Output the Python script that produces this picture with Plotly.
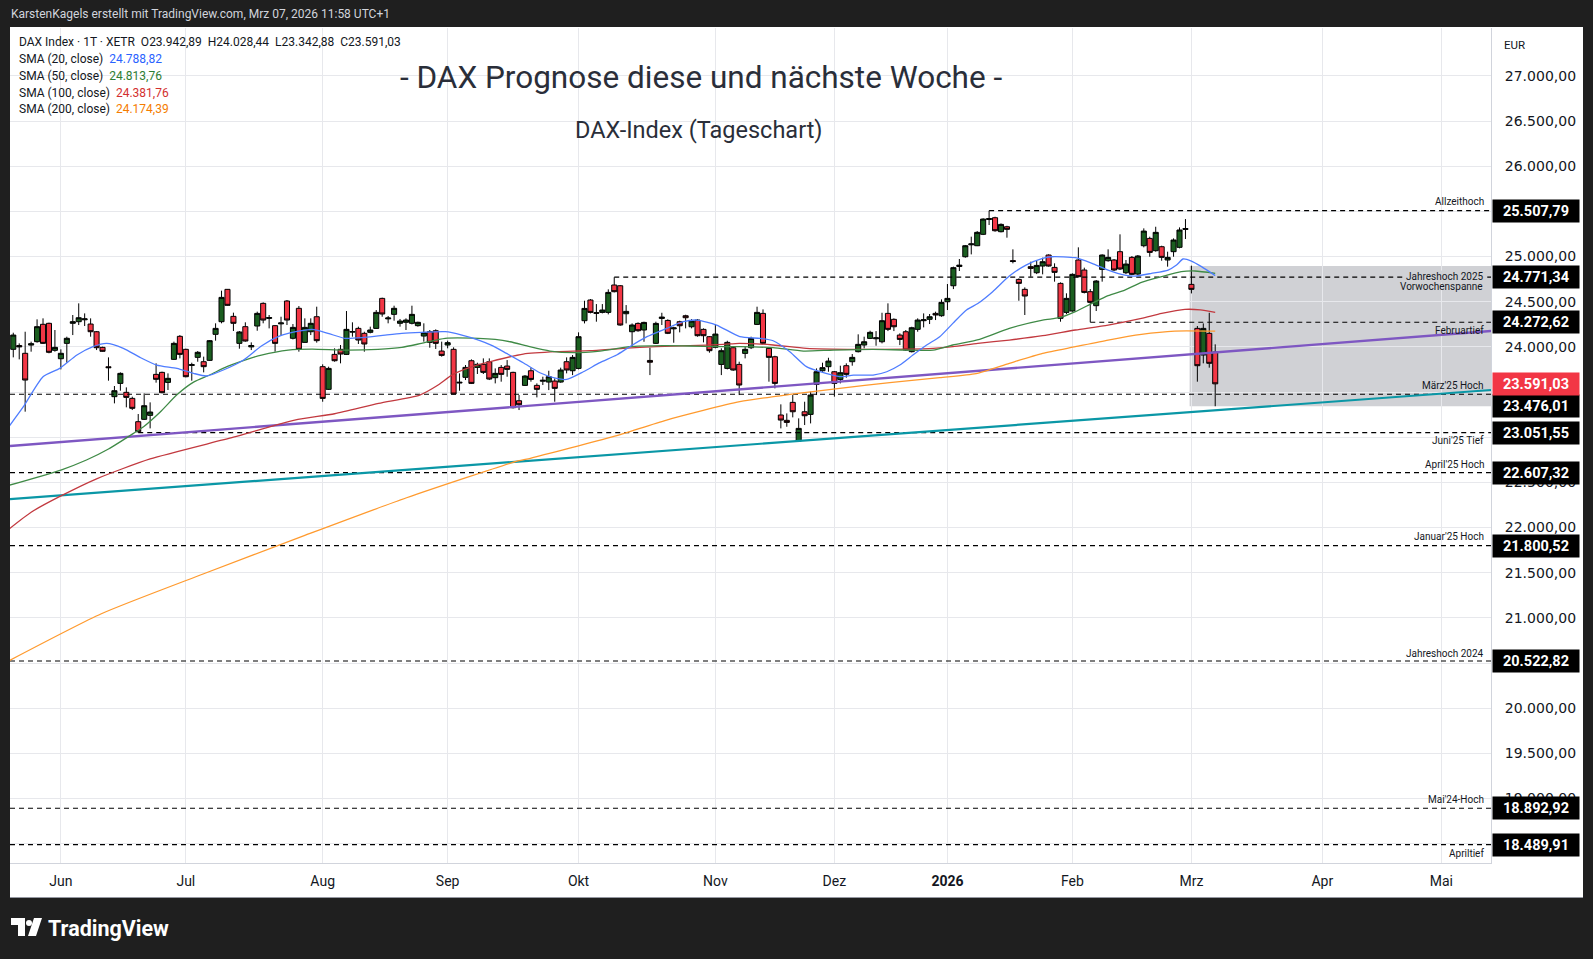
import plotly.graph_objects as go
import pandas as pd

# ---------------- DATA ----------------
holidays = {"2025-12-24", "2025-12-25", "2025-12-26", "2025-12-31", "2026-01-01",
            "2026-04-03", "2026-04-06", "2026-05-01"}
calendar = [d.strftime("%Y-%m-%d") for d in pd.bdate_range("2025-05-21", "2026-05-29")
            if d.strftime("%Y-%m-%d") not in holidays]

opens = [23973, 24015, 23929, 24020, 24058, 24250, 24261, 23962, 23869, 24039,
         24261, 24279, 24300, 24253, 24168, 23995, 23780, 23449, 23596, 23497,
         23430, 23172, 23198, 23242, 23696, 23718, 23607, 23862, 24117, 23973,
         23795, 23884, 23836, 23851, 24139, 24279, 24637, 24338, 24039, 24224,
         24000, 24231, 24482, 24315, 24235, 24255, 24508, 24095, 24427, 24050,
         24168, 24334, 23781, 23530, 23917, 23973, 23917, 24170, 24205, 24150,
         24161, 24205, 24537, 24310, 24360, 24261, 24272, 24261, 24235, 24120,
         24168, 24179, 23954, 24021, 23973, 23600, 23663, 23847, 23773, 23807,
         23836, 23659, 23773, 23788, 23718, 23404, 23574, 23736, 23574, 23620,
         23611, 23622, 23611, 23836, 23736, 23762, 24290, 24519, 24380, 24382,
         24382, 24685, 24677, 24367, 24168, 24260, 24187, 23850, 24039, 24315,
         24293, 24200, 24279, 24345, 24223, 24297, 24194, 24113, 23995, 23806,
         23762, 23991, 23806, 23928, 23991, 24249, 24371, 23984, 23891, 23246,
         23187, 23386, 22958, 23282, 23253, 23585, 23736, 23781, 23725, 23640,
         23792, 23836, 23947, 24021, 24094, 24090, 24057, 24371, 24305, 24131,
         24168, 23947, 24194, 24290, 24305, 24371, 24345, 24500, 24677, 24890,
         24998, 25130, 25120, 25246, 25410, 25430, 25275, 25330, 24955, 24747,
         24637, 24888, 24821, 24895, 25017, 24880, 24703, 24382, 24397, 24962,
         24851, 24611, 24456, 24858, 24954, 24962, 25054, 24821, 24991, 24806,
         25120, 25201, 25065, 25109, 24962, 25054, 25102, 25300, 24692, 24205,
         23910, 24150, 23942.89]
highs = [24157, 24039, 24168, 24058, 24305, 24316, 24268, 24187, 23973, 24113,
         24353, 24482, 24371, 24316, 24176, 24002, 23884, 23567, 23718, 23552,
         23449, 23257, 23486, 23386, 23818, 23726, 23707, 24058, 24131, 23980,
         23825, 23954, 23892, 24076, 24261, 24622, 24640, 24379, 24176, 24272,
         24050, 24390, 24493, 24353, 24242, 24334, 24519, 24253, 24452, 24316,
         24316, 24445, 23807, 23781, 23984, 24021, 24397, 24272, 24224, 24168,
         24224, 24408, 24545, 24342, 24456, 24309, 24316, 24456, 24279, 24261,
         24187, 24194, 24058, 24069, 23995, 23707, 23799, 23862, 23825, 23873,
         23873, 23762, 23799, 23854, 23725, 23467, 23688, 23773, 23596, 23670,
         23736, 23651, 23770, 23884, 23910, 24161, 24511, 24530, 24474, 24474,
         24637, 24771, 24685, 24463, 24260, 24271, 24279, 23991, 24279, 24378,
         24305, 24223, 24290, 24356, 24308, 24308, 24205, 24120, 24253, 23984,
         24068, 24002, 23836, 24002, 24113, 24445, 24415, 23991, 23902, 23364,
         23264, 23467, 23209, 23393, 23504, 23762, 23825, 23880, 23733, 23792,
         23818, 23921, 24139, 24113, 24179, 24175, 24378, 24482, 24316, 24150,
         24187, 24223, 24316, 24371, 24364, 24390, 24526, 24696, 24888, 24973,
         25128, 25220, 25282, 25423, 25508, 25441, 25367, 25341, 25080, 24758,
         24659, 24943, 24958, 24987, 25024, 24925, 24714, 24593, 24814, 25102,
         24877, 24640, 24740, 25024, 25080, 24973, 25246, 24962, 25006, 25017,
         25312, 25220, 25330, 25120, 25054, 25201, 25323, 25415, 24899, 24231,
         24260, 24378, 24028.44]
lows = [23884, 23862, 23283, 23947, 24047, 24032, 23929, 23947, 23751, 23825,
        24131, 24242, 24231, 24113, 23965, 23947, 23626, 23375, 23515, 23331,
        23301, 23052, 23191, 23098, 23604, 23486, 23523, 23855, 23873, 23663,
        23626, 23836, 23718, 23844, 24069, 24261, 24456, 24176, 23980, 24058,
        23965, 24179, 24261, 24205, 23947, 24131, 24242, 24083, 23947, 24047,
        24131, 24047, 23393, 23523, 23836, 23818, 23910, 24113, 24032, 23947,
        24150, 24198, 24334, 24261, 24290, 24224, 24187, 24249, 24224, 24058,
        23991, 23977, 23892, 23984, 23475, 23515, 23633, 23589, 23700, 23700,
        23633, 23596, 23615, 23670, 23319, 23301, 23567, 23615, 23441, 23578,
        23522, 23393, 23603, 23707, 23688, 23751, 24260, 24371, 24279, 24371,
        24360, 24603, 24234, 24260, 24002, 24168, 24057, 23688, 24032, 24242,
        24142, 24046, 24161, 24205, 24205, 24113, 24050, 23936, 23984, 23688,
        23751, 23736, 23467, 23873, 23976, 24242, 24032, 23615, 23541, 23098,
        23116, 23220, 22950, 23135, 23153, 23467, 23725, 23725, 23449, 23596,
        23659, 23792, 23939, 23984, 24087, 24013, 24039, 24175, 24175, 24020,
        23958, 23939, 24168, 24216, 24253, 24297, 24334, 24408, 24640, 24840,
        24987, 25024, 25116, 25238, 25349, 25275, 25268, 25209, 24925, 24511,
        24353, 24777, 24806, 24803, 24888, 24722, 24279, 24364, 24390, 24770,
        24592, 24273, 24397, 24722, 24943, 24840, 24851, 24806, 24795, 24795,
        25102, 24998, 25054, 24954, 24888, 24998, 25091, 25194, 24592, 23615,
        23818, 23770, 23342.88]
closes = [24131, 24000, 23633, 24035, 24224, 24039, 23940, 23995, 23929, 24095,
          24279, 24323, 24310, 24168, 23991, 23951, 23770, 23515, 23707, 23441,
          23320, 23061, 23349, 23279, 23641, 23493, 23652, 24039, 23917, 23670,
          23803, 23940, 23781, 24069, 24205, 24548, 24460, 24261, 24165, 24065,
          24015, 24371, 24297, 24325, 24039, 24265, 24297, 24216, 23973, 24216,
          24261, 24069, 23430, 23762, 23847, 23921, 24194, 24165, 24076, 24032,
          24187, 24382, 24364, 24320, 24427, 24286, 24297, 24360, 24272, 24157,
          24050, 24039, 23906, 24047, 23478, 23608, 23773, 23596, 23807, 23718,
          23644, 23707, 23696, 23751, 23327, 23360, 23677, 23640, 23530, 23630,
          23670, 23541, 23744, 23744, 23884, 24113, 24426, 24382, 24372, 24408,
          24603, 24611, 24242, 24393, 24242, 24179, 24271, 23830, 24260, 24330,
          24150, 24210, 24234, 24323, 24286, 24124, 24124, 23958, 24142, 23958,
          24050, 23744, 23578, 23973, 24094, 24382, 24039, 23884, 23596, 23190,
          23164, 23282, 23098, 23238, 23467, 23725, 23770, 23843, 23596, 23714,
          23696, 23884, 24028, 24057, 24161, 24100, 24290, 24194, 24223, 24083,
          23965, 24212, 24297, 24300, 24334, 24353, 24493, 24537, 24877, 24905,
          25120, 25140, 25268, 25415, 25420, 25286, 25356, 25301, 24945, 24703,
          24563, 24869, 24902, 24943, 24895, 24825, 24316, 24537, 24803, 24777,
          24603, 24493, 24729, 25017, 24991, 24851, 24862, 24917, 24803, 25006,
          25282, 25046, 25268, 24991, 24991, 25183, 25294, 25310, 24637, 23792,
          24205, 23818, 23591.03]

# moving averages (x = bar index)
sma20_x = [-0.6, 1.7, 5, 7.8, 10.7, 13.4, 15.7, 18.5, 21.3, 24.1, 27.5, 30.3, 32.5, 35.3,
           38.7, 41.7, 44.5, 46.2, 50.2, 52.9, 55.7, 58.6, 62.5, 65.3, 68.6, 72.6, 75.4,
           78.2, 80.5, 82.9, 85.7, 88.5, 91.3, 93, 95.8, 98.6, 101.4, 103.6, 106.5, 109.8,
           112.6, 114.9, 118.2, 122.1, 125.5, 127.7, 130.5, 133.3, 135.6, 138.9, 141.2,
           144.5, 146.8, 149, 151.2, 153.5, 155.7, 157.9, 160.2, 162.1, 164.6, 167.4,
           170.2, 173, 174.5, 178.5, 181.3, 184, 186.8, 188.5, 191.3, 194.1, 195.5,
           196.6, 198, 199.7, 202]
sma20_y = [23130, 23338, 23670, 23762, 23910, 24002, 24039, 23984, 23884, 23799, 23762,
           23707, 23678, 23744, 23855, 24010, 24113, 24150, 24194, 24150, 24095, 24102,
           24131, 24150, 24161, 24168, 24131, 24076, 24015, 23928, 23825, 23714, 23651,
           23640, 23725, 23825, 23910, 24002, 24113, 24205, 24279, 24297, 24242, 24113,
           24094, 24068, 23947, 23781, 23725, 23670, 23688, 23688, 23725, 23799, 23910,
           24021, 24113, 24260, 24408, 24480, 24611, 24784, 24906, 24980, 24998, 24987,
           24925, 24851, 24795, 24784, 24814, 24851, 24906, 24973, 24950, 24888, 24789]
sma50_x = [-0.6, 8, 12.3, 16, 20.2, 21.9, 24.7, 27.5, 30.3, 33, 35.9, 39.8, 41.7, 46.2,
           50.2, 55.7, 61.3, 65.3, 68.6, 72.6, 78.2, 81, 83.5, 86.8, 90.2, 94.1, 98.6,
           103.6, 109.2, 113.7, 118.2, 122.1, 127.7, 132.8, 137.8, 144.5, 150.1, 154.6,
           157.9, 162.4, 167.4, 173, 175.8, 178.5, 181.3, 184, 186.8, 189.6, 193, 196.3,
           198.6, 202]
sma50_y = [22470, 22637, 22748, 22870, 23043, 23117, 23280, 23470, 23610, 23689, 23781,
           23873, 23910, 23965, 23976, 23965, 23973, 23995, 24039, 24095, 24095, 24083,
           24057, 24002, 23954, 23936, 23954, 24002, 24013, 24010, 24002, 24002, 23991,
           23954, 23965, 23973, 23965, 23965, 24021, 24083, 24205, 24297, 24323, 24390,
           24482, 24567, 24629, 24714, 24777, 24832, 24840, 24814]
sma100_x = [-0.6, 3, 8, 14, 23, 37, 47.3, 54, 61.4, 68.3, 71.4, 73.7, 77.1, 80.5, 85.7,
            91.3, 96.9, 102.5, 108.1, 113.7, 119.3, 122, 127.7, 133.3, 141.7, 150.1, 154.6,
            157.9, 162.1, 167.4, 173, 178.5, 184, 189.6, 193, 196.9, 199.5, 202]
sma100_y = [21990, 22170, 22350, 22540, 22760, 23000, 23189, 23260, 23375, 23467, 23578,
            23688, 23781, 23843, 23921, 23947, 23958, 23984, 24002, 24013, 24028, 24040,
            24021, 23984, 23973, 23976, 23984, 24002, 24039, 24076, 24124, 24187, 24242,
            24316, 24371, 24415, 24410, 24382]
sma200_x = [-0.6, 14.8, 31.9, 49, 66.1, 84.8, 86.9, 100.8, 109.8, 122.1, 130.5, 138.9,
            147.3, 155.7, 161.8, 167.4, 173, 178.5, 184, 189.6, 195.2, 202]
sma200_y = [20530, 21046, 21486, 21913, 22330, 22737, 22767, 23006, 23190, 23393, 23474,
            23541, 23604, 23659, 23703, 23818, 23928, 24002, 24076, 24139, 24175, 24174]

# drawn trend lines (value at left edge, value at right edge of the chart)
purple_trend = [22903, 24176]
teal_trend = [22316, 23523]

# horizontal levels
levels = [25507.79, 24771.34, 24272.62, 23476.01, 23051.55, 22607.32, 21800.52,
          20522.82, 18892.92, 18489.91]
level_names = ["Allzeithoch", "Jahreshoch 2025", "Februartief", "März'25 Hoch",
               "Juni'25 Tief", "April'25 Hoch", "Januar'25 Hoch", "Jahreshoch 2024",
               "Mai'24-Hoch", "Apriltief"]
level_start = ["2026-01-13", "2025-10-09", "2026-02-05", None, "2025-06-19", None, None,
               None, None, None]

# weekly range box (Vorwochenspanne)
range_start = "2026-03-02"
range_top, range_bottom = 24895, 23342.88

sma_periods = [20, 50, 100, 200]
sma_last = [24788.82, 24813.76, 24381.76, 24174.39]
month_labels = ["Jun", "Jul", "Aug", "Sep", "Okt", "Nov", "Dez", "<b>2026</b>", "Feb",
                "Mrz", "Apr", "Mai"]
y_ticks = [18500 + 500 * k for k in range(18)]
y_ticks_hidden = [18500, 20500, 23000, 23500, 25500]   # fully covered by price labels

# ---------------- FIGURE ----------------
def de(v):
    return f"{v:,.2f}".replace(",", "X").replace(".", ",").replace("X", ".")

bars = list(range(len(opens)))
month_ticks = [i for i in range(1, len(calendar)) if calendar[i][5:7] != calendar[i - 1][5:7]]
X0, X1 = -0.55, 248.35
Y0, Y1 = 18287, 27530

L, T, W, H = 10, 28, 1481, 835
FIGW, FIGH = 1593, 959
FONT = "Roboto"
AXFONT = "DejaVu Sans"
INK = "#131722"
BOXGRAY = "rgba(120,123,134,0.35)"

def px(xp):
    return (xp - L) / W

def py(yp):
    return 1 - (yp - T) / H

fig = go.Figure()

# level lines
for lv, st in zip(levels, level_start):
    xs = calendar.index(st) if st else X0
    fig.add_trace(go.Scatter(x=[xs, X1], y=[lv, lv], mode="lines",
                             line=dict(color="#000000", width=1.2, dash="5px,4px"),
                             hoverinfo="skip", showlegend=False))

# trend lines
fig.add_trace(go.Scatter(x=[X0, X1], y=teal_trend, mode="lines",
                         line=dict(color="#0a97a6", width=2.2), hoverinfo="skip", showlegend=False))
fig.add_trace(go.Scatter(x=[X0, X1], y=purple_trend, mode="lines",
                         line=dict(color="#7e57c2", width=2.4), hoverinfo="skip", showlegend=False))

# SMAs
sma_colors = ["#4f7dff", "#3f8a46", "#c2393f", "#ff9a2e"]
for xs, ys, col in [(sma200_x, sma200_y, sma_colors[3]), (sma100_x, sma100_y, sma_colors[2]),
                    (sma50_x, sma50_y, sma_colors[1]), (sma20_x, sma20_y, sma_colors[0])]:
    fig.add_trace(go.Scatter(x=xs, y=ys, mode="lines",
                             line=dict(color=col, width=1.3, shape="spline", smoothing=0.6),
                             hoverinfo="skip", showlegend=False))

# candles
fig.add_trace(go.Candlestick(
    x=bars, open=opens, high=highs, low=lows, close=closes,
    increasing=dict(line=dict(color="#000000", width=1), fillcolor="#1b5e20"),
    decreasing=dict(line=dict(color="#000000", width=1), fillcolor="#f23645"),
    whiskerwidth=0, hoverinfo="skip", showlegend=False))

shapes = []
# white chart panel
shapes.append(dict(type="rect", xref="paper", yref="paper", x0=px(10), x1=px(1583),
                   y0=py(898), y1=py(27), fillcolor="#ffffff", line=dict(width=0), layer="below"))
shapes.append(dict(type="line", xref="paper", yref="paper", x0=px(10), x1=px(1583),
                   y0=py(897.5), y1=py(897.5), line=dict(color="#9598a1", width=1), layer="below"))
# weekly range box
rs = calendar.index(range_start)
shapes.append(dict(type="rect", xref="x", yref="y", x0=rs - 0.3, x1=X1, y0=range_bottom, y1=range_top,
                   fillcolor=BOXGRAY, line=dict(width=0), layer="below"))
# TradingView logo
shapes += [
    dict(type="rect", xref="paper", yref="paper", x0=px(11), x1=px(25), y0=py(925), y1=py(918),
         fillcolor="#ffffff", line=dict(width=0)),
    dict(type="rect", xref="paper", yref="paper", x0=px(18), x1=px(25), y0=py(936), y1=py(918),
         fillcolor="#ffffff", line=dict(width=0)),
    dict(type="circle", xref="paper", yref="paper", x0=px(26), x1=px(32), y0=py(926), y1=py(920),
         fillcolor="#ffffff", line=dict(width=0)),
    dict(type="path", xref="paper", yref="paper",
         path=f"M {px(34)},{py(918)} L {px(42)},{py(918)} L {px(36)},{py(936)} L {px(28)},{py(936)} Z",
         fillcolor="#ffffff", line=dict(width=0)),
]

annotations = []

def note(text, xp, yp, size, color=INK, xanchor="left", family=FONT):
    annotations.append(dict(text=text, xref="paper", yref="paper", x=px(xp), y=py(yp),
                            xanchor=xanchor, yanchor="middle", showarrow=False,
                            font=dict(size=size, color=color, family=family)))

note("KarstenKagels erstellt mit TradingView.com, Mrz 07, 2026 11:58 UTC+1", 9, 14, 12, "#d1d4dc")
note("<b>TradingView</b>", 46, 928, 21.5, "#ffffff")
note("- DAX Prognose diese und nächste Woche -", 701, 77, 31.5, "#2a2e39", "center")
note("DAX-Index (Tageschart)", 699, 130, 23.5, "#2a2e39", "center")
note("EUR", 1502, 45, 11.5, INK)
note(f"DAX Index · 1T · XETR  O{de(opens[-1])}  H{de(highs[-1])}  L{de(lows[-1])}  C{de(closes[-1])}",
     17, 42, 12)
for k, (p, v) in enumerate(zip(sma_periods, sma_last)):
    col = ["#2962ff", "#2e7d32", "#d32f2f", "#f57c00"][k]
    note(f"SMA ({p}, close)  <span style='color:{col}'>{de(v)}</span>", 17, 59 + 16.8 * k, 12)

# level text labels
lbl_shift = {"Allzeithoch": 9, "Jahreshoch 2025": 0.5, "Februartief": -8.5, "März'25 Hoch": 8.5,
             "Juni'25 Tief": -8, "April'25 Hoch": 8.5, "Januar'25 Hoch": 9, "Jahreshoch 2024": 8,
             "Mai'24-Hoch": 8.5, "Apriltief": -8.5}
for lv, name in zip(levels, level_names):
    extra = dict(bgcolor="#d0d1d5") if name == "Jahreshoch 2025" else {}
    annotations.append(dict(text=name, xref="paper", yref="y", x=1, y=lv, xanchor="right",
                            yanchor="middle", xshift=-6, yshift=lbl_shift[name], showarrow=False,
                            borderpad=0, font=dict(size=10, color=INK, family=FONT), **extra))
annotations.append(dict(text="Vorwochenspanne", xref="paper", yref="y", x=1, y=levels[1],
                        xanchor="right", yanchor="middle", xshift=-6, yshift=-9.5, showarrow=False,
                        font=dict(size=10, color=INK, family=FONT)))

# price labels on the right axis
box_shift = {23476.01: -12}
for lv in levels:
    annotations.append(dict(text=f"<b>{de(lv)}</b>", xref="paper", yref="y", x=1, y=lv,
                            xanchor="left", yanchor="middle", xshift=1, yshift=box_shift.get(lv, 0),
                            width=82, height=18, borderpad=2, bgcolor="#000000", showarrow=False,
                            align="center", font=dict(size=14.5, color="#ffffff", family=FONT)))
annotations.append(dict(text=f"<b>{de(closes[-1])}</b>", xref="paper", yref="y", x=1, y=closes[-1],
                        xanchor="left", yanchor="middle", xshift=1, width=82, height=18, borderpad=2,
                        bgcolor="#f23645", showarrow=False, align="center",
                        font=dict(size=14.5, color="#ffffff", family=FONT)))

fig.update_layout(
    width=FIGW, height=FIGH,
    margin=dict(l=L, r=FIGW - L - W, t=T, b=FIGH - T - H, pad=0),
    paper_bgcolor="#1f1f1f", plot_bgcolor="#ffffff",
    shapes=shapes, annotations=annotations,
    boxgap=0.15, boxgroupgap=0,
    xaxis=dict(range=[X0, X1], tickvals=month_ticks, ticktext=month_labels,
               showgrid=True, gridcolor="#e7e8ec", gridwidth=1, zeroline=False,
               showline=True, linecolor="#d1d4dc", linewidth=1, ticks="", ticklabelstandoff=5,
               tickfont=dict(size=14, color=INK, family=FONT), rangeslider=dict(visible=False),
               fixedrange=True),
    yaxis=dict(range=[Y0, Y1], side="right", tickvals=y_ticks,
               ticktext=["" if v in y_ticks_hidden else de(v) for v in y_ticks],
               showgrid=True, gridcolor="#e7e8ec", gridwidth=1, zeroline=False,
               showline=True, linecolor="#d1d4dc", linewidth=1, ticks="", ticklabelstandoff=10,
               tickfont=dict(size=14, color=INK, family=AXFONT), fixedrange=True),
    showlegend=False,
)

fig.write_html("out.html", config={"displayModeBar": False})
